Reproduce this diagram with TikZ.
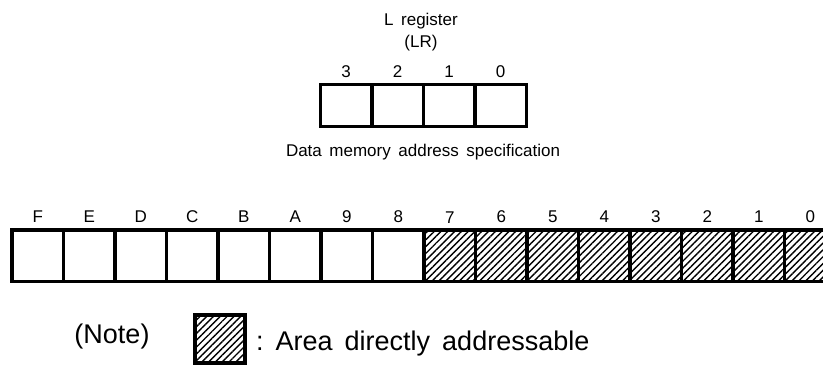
\documentclass[tikz,border=0pt]{standalone}
\usepackage{fontspec}
\setmainfont{Liberation Sans}[WordSpace=1.6]
\usepackage{tikz}
\usetikzlibrary{positioning}
\usetikzlibrary{patterns.meta}
\tikzstyle{cell}=[rectangle,draw=black,line width=3.5pt,minimum width=51.5pt,minimum height=51.5pt,inner sep=0pt]
\tikzstyle{lrcell}=[cell,minimum height=42pt]
\tikzstyle{hatched}=[pattern={Lines[angle=45,distance=4.8pt,line width=1.4pt]}]
\tikzstyle{bitlabel}=[inner sep=0pt,text height=12pt,text depth=0pt,font=\fontsize{17}{20}\selectfont]
\tikzstyle{notetext}=[inner sep=0pt,font=\fontsize{27}{32}\selectfont]

\begin{document}
\begin{tikzpicture}[x=1pt,y=-1pt]
    \useasboundingbox (0,0) rectangle (823,367);
    \clip (0,0) rectangle (823,367);

    % L register and its bit numbers
    \node[inner sep=0pt,align=center,font=\fontsize{17}{22}\selectfont] (lrtitle) at (421,32) {L register\\(LR)};
    \foreach \label [count=\i from 0] in {3,2,1,0}
        \node[lrcell] (lr\label) at (346+51.5*\i,105.5) {};
    \foreach \label in {3,2,1,0}
        \node[bitlabel,above=5pt of lr\label] (lrbit\label) {\label};
    \node[bitlabel,anchor=base] (lrcaption) at (423,156) {Data memory address specification};

    % data memory row, upper half hatched
    \foreach \label [count=\i from 0] in {F,E,D,C,B,A,9,8}
        \node[cell] (dm\label) at (37.75+51.5*\i,255.75) {};
    \foreach \label [count=\i from 8] in {7,6,5,4,3,2,1,0}
        \node[cell,hatched] (dm\label) at (37.75+51.5*\i,255.75) {};
    \foreach \label in {F,E,D,C,B,A,9,8,7,6,5,4,3,2,1,0}
        \node[bitlabel,above=6pt of dm\label] (dmbit\label) {\label};

    % note
    \node[notetext] (note) at (112,337) {(Note)};
    \node[cell,hatched,minimum width=50pt,minimum height=48pt] (notebox) at (220,339) {};
    \node[notetext,anchor=base west] (notecaption) at (256,350) {:~Area directly addressable};
\end{tikzpicture}
\end{document}
